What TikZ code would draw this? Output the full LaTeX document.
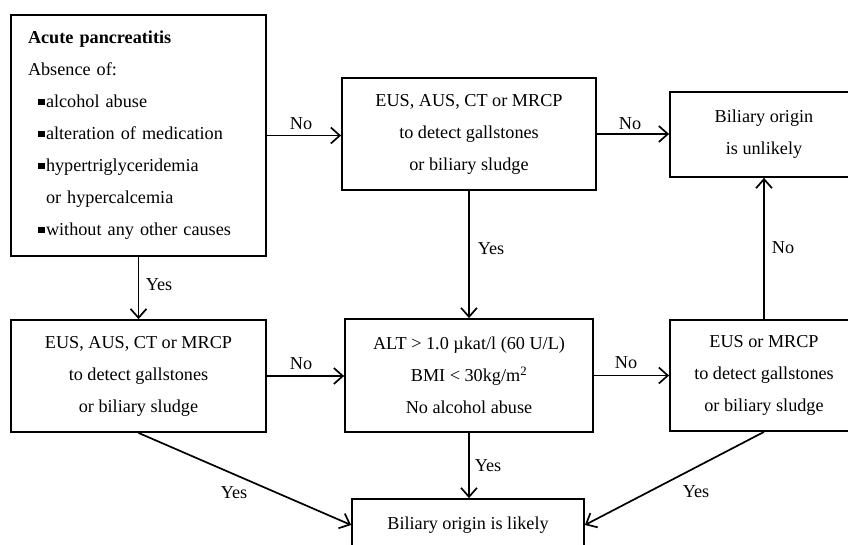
\documentclass[tikz,border=0pt]{standalone}
\usepackage{fontspec}
\setmainfont{Liberation Serif}
\usetikzlibrary{arrows.meta}
\newcommand\sqbullet{\rule[2.5pt]{6.5pt}{6.5pt}\hspace{1.5pt}}
\begin{document}
\begin{tikzpicture}[x=1pt,y=-1pt,
  box/.style={draw, line width=1.8pt, align=center, inner sep=0pt,
    font=\fontsize{18.2}{32}\selectfont},
  arr/.style={line width=1.7pt, -{Straight Barb[length=9pt,width=16pt,line width=1.7pt]}},
  lbl/.style={font=\fontsize{18.2}{22}\selectfont, inner sep=0pt}]
\useasboundingbox (0,0) rectangle (848,545);
\clip (0,0) rectangle (848,545);
\fill[white] (0,0) rectangle (848,545);

\node[box, align=left, text width=221pt, inner xsep=17pt, minimum height=241pt] (A) at (138.5,135.5)
 {{\bfseries Acute pancreatitis}\\
  Absence of:\\
  \hspace*{10pt}\sqbullet alcohol abuse\\
  \hspace*{10pt}\sqbullet alteration of medication\\
  \hspace*{10pt}\sqbullet hypertriglyceridemia\\
  \hspace*{18pt}or hypercalcemia\\
  \hspace*{10pt}\sqbullet without any other causes};
\node[box, minimum width=254pt, minimum height=112pt] (B) at (469,134)
 {EUS, AUS, CT or MRCP\\to detect gallstones\\or biliary sludge};
\node[box, minimum width=188pt, minimum height=85pt] (C) at (764,134.5)
 {Biliary origin\\is unlikely};
\node[box, minimum width=255pt, minimum height=112pt] (D) at (138.5,376)
 {EUS, AUS, CT or MRCP\\to detect gallstones\\or biliary sludge};
\node[box, minimum width=248pt, minimum height=113pt] (E) at (469,375.5)
 {ALT > 1.0 µkat/l (60 U/L)\\BMI < 30kg/m\textsuperscript{2}\\No alcohol abuse};
\node[box, minimum width=188pt, minimum height=111pt] (F) at (764,375.5)
 {EUS or MRCP\\to detect gallstones\\or biliary sludge};
\node[box, minimum width=232pt, minimum height=52pt] (G) at (468,525)
 {Biliary origin is likely};

\draw[arr] (A.east) -- (A.east -| B.west);
\draw[arr] (B.east) -- (B.east -| C.west);
\draw[arr] (A.south) -- (D.north);
\draw[arr] (B.south) -- (E.north);
\draw[arr] (D.east) -- (D.east -| E.west);
\draw[arr] (E.east) -- (E.east -| F.west);
\draw[arr] (F.north) -- (C.south);
\draw[arr] (E.south) -- (E.south |- G.north);
\draw[arr] (D.south) -- (G.west);
\draw[arr] (F.south) -- (G.east);

\node[lbl] (l1) at (301,124) {No};
\node[lbl] (l2) at (630,124) {No};
\node[lbl] (l3) at (783,248) {No};
\node[lbl] (l4) at (159,285) {Yes};
\node[lbl] (l5) at (491,249) {Yes};
\node[lbl] (l6) at (301,364) {No};
\node[lbl] (l7) at (626,363) {No};
\node[lbl] (l8) at (488,466) {Yes};
\node[lbl] (l9) at (234,493) {Yes};
\node[lbl] (l10) at (696,492) {Yes};
\end{tikzpicture}
\end{document}
